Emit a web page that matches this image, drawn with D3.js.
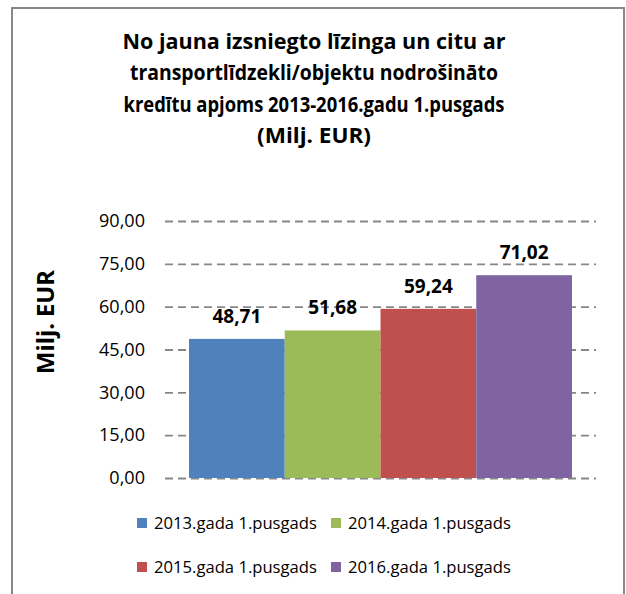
<!DOCTYPE html>
<html><head><meta charset="utf-8">
<script src="https://cdn.jsdelivr.net/npm/d3@7"></script>
<style>body{margin:0;background:#fff}svg{display:block}text{font-family:"Open Sans",sans-serif}</style>
</head><body>
<svg id="c" width="626" height="594"></svg>
<script>
const titleLines = ["No jauna izsniegto līzinga un citu ar","transportlīdzekli/objektu nodrošināto","kredītu apjoms 2013-2016.gadu 1.pusgads","(Milj. EUR)"];
const titleWidths = [383, 368, 381, 114];
const seriesNames = ["2013.gada 1.pusgads","2014.gada 1.pusgads","2015.gada 1.pusgads","2016.gada 1.pusgads"];
const seriesValues = [48.71, 51.68, 59.24, 71.02];
const seriesColors = ["#4F81BD","#9BBB59","#C0504D","#8064A2"];
const yTicks = [0,15,30,45,60,75,90];
const yLabel = "Milj. EUR";

const svg = d3.select("#c");
svg.append("rect").attr("x",12).attr("y",8).attr("width",612).attr("height",600)
  .attr("fill","#fff").attr("stroke","#888").attr("stroke-width",2);

function fit(sel, refNode, target){
  const fs = parseFloat(d3.select(refNode).attr("font-size") || refNode.style.fontSize);
  const w = refNode.getComputedTextLength();
  const nfs = fs*target/w;
  sel.attr("font-size", nfs).style("font-size", nfs+"px");
}

const fmt = v => d3.format(".2f")(v).replace(".", ",");
const plot = {l:165, r:596, t:221, b:478};
const y = d3.scaleLinear().domain([0,90]).range([plot.b, plot.t]);
const x = d3.scaleBand().domain(seriesNames).range([plot.l+24, plot.r-24]).padding(0);

// title
svg.append("g").selectAll("text").data(titleLines).join("text")
  .attr("x",314).attr("y",(d,i)=>48.5+i*31.5).attr("text-anchor","middle")
  .attr("font-weight","bold").attr("font-size",21).attr("fill","#000")
  .attr("textLength",(d,i)=>titleWidths[i]).attr("lengthAdjust","spacingAndGlyphs")
  .text(d=>d);

// axis with gridlines
const ax = svg.append("g").attr("transform",`translate(${plot.l},0)`)
  .call(d3.axisLeft(y).tickValues(yTicks).tickFormat(fmt).tickSize(-(plot.r-plot.l)).tickPadding(20));
ax.select(".domain").remove();
ax.selectAll(".tick line").attr("stroke","#878787").attr("stroke-width",1.8).attr("stroke-dasharray","8,5");
const tk = ax.selectAll(".tick text").attr("fill","#000").attr("font-size",16)
  .style("font-size","16px").style("font-family","'Open Sans',sans-serif");
fit(tk, tk.nodes()[tk.size()-1], 46);

// bars
svg.append("g").selectAll("rect").data(seriesNames).join("rect")
  .attr("x",d=>x(d)).attr("width",x.bandwidth())
  .attr("y",(d,i)=>y(seriesValues[i])).attr("height",(d,i)=>plot.b-y(seriesValues[i]))
  .attr("fill",(d,i)=>seriesColors[i]);

// labels
const dl = svg.append("g").selectAll("text").data(seriesNames).join("text")
  .attr("x",d=>x(d)+x.bandwidth()/2).attr("y",(d,i)=>y(seriesValues[i])-16)
  .attr("text-anchor","middle").attr("font-weight","bold").attr("font-size",17)
  .attr("fill","#000").text((d,i)=>fmt(seriesValues[i]));
fit(dl, dl.nodes()[0], 49);

// y label
const yl = svg.append("text").attr("transform","translate(54,322) rotate(-90)")
  .attr("text-anchor","middle").attr("font-weight","bold").attr("font-size",20).text(yLabel);
fit(yl, yl.node(), 104);

// legend
const legPos = [[137,523],[331,523],[137,567],[331,567]];
const lg = svg.append("g").selectAll("g").data(seriesNames).join("g")
  .attr("transform",(d,i)=>`translate(${legPos[i][0]},${legPos[i][1]})`);
lg.append("rect").attr("x",0).attr("y",-5).attr("width",10).attr("height",10).attr("fill",(d,i)=>seriesColors[i]);
const lt = lg.append("text").attr("x",17).attr("y",5.5).attr("font-size",16).attr("fill","#000").text(d=>d);
fit(lt, lt.nodes()[0], 163);
</script>
</body></html>
